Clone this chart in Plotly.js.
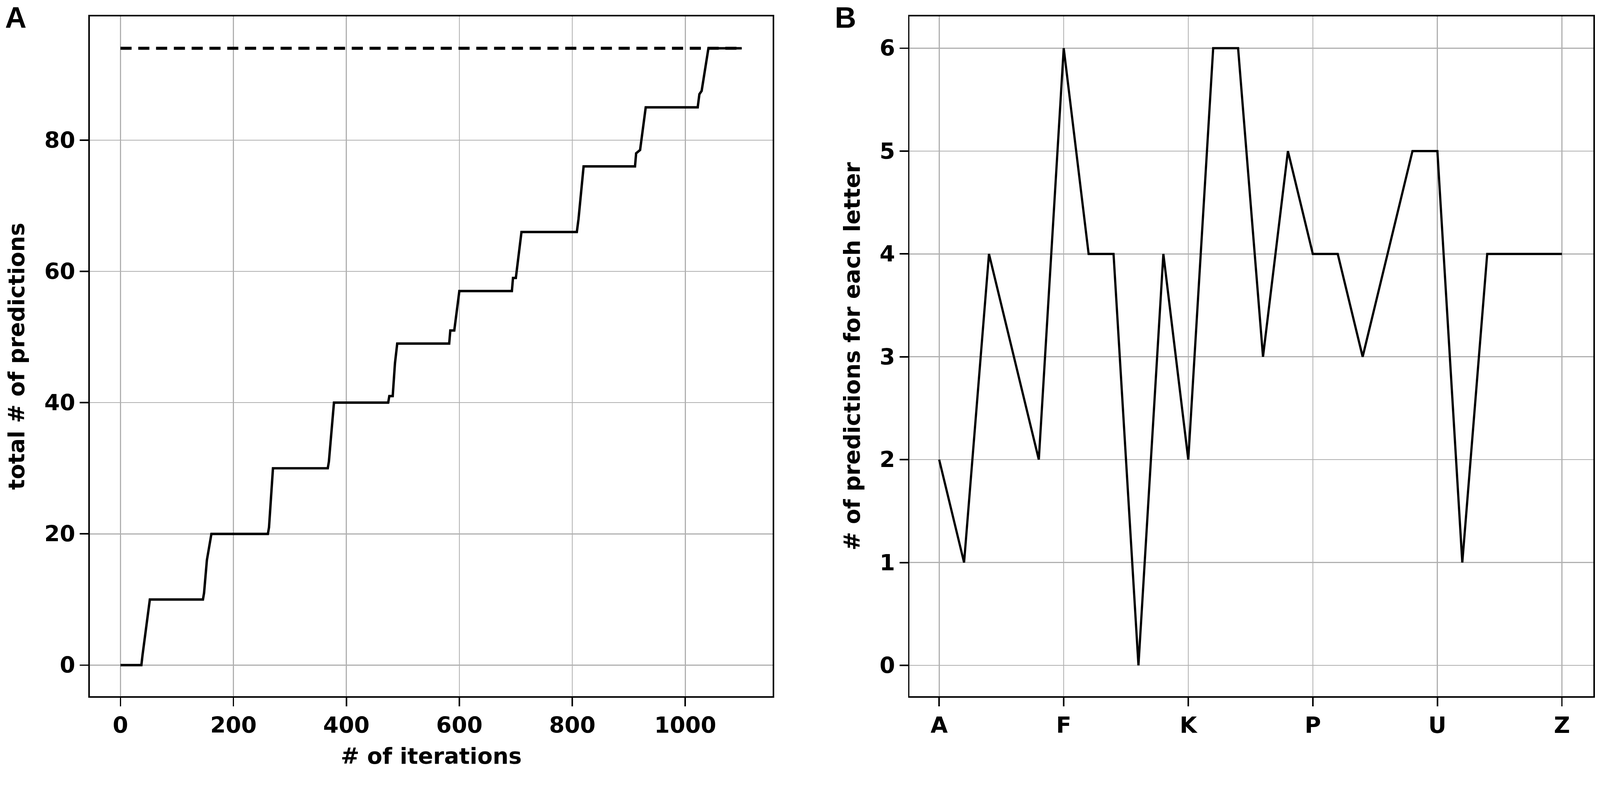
<!DOCTYPE html>
<html>
<head>
<meta charset="utf-8">
<script src="https://cdn.plot.ly/plotly-3.0.1.min.js"></script>
<style>html,body{margin:0;padding:0;background:#fff;overflow:hidden;}#chart{position:absolute;left:0;top:0;}</style>
</head>
<body>
<div id="chart"></div>
<script>
// Panel A: cumulative predictions vs iterations (vertices)
const iterations = [0, 37, 39, 52, 146, 148, 153, 161, 261, 263, 270, 367, 369, 378, 474, 476, 482, 486, 490, 582, 584, 591, 600, 693, 695, 700, 710, 808, 811, 820, 911, 913, 920, 930, 1022, 1025, 1029, 1041, 1100];
const totalPredictions = [0, 0, 1.5, 10, 10, 11, 16, 20, 20, 21, 30, 30, 31, 40, 40, 41, 41, 46, 49, 49, 51, 51, 57, 57, 59, 59, 66, 66, 68, 76, 76, 78, 78.5, 85, 85, 87, 87.5, 94, 94];
const targetX = [0, 1100];
const targetY = [94, 94];
const xTicksA = [0, 200, 400, 600, 800, 1000];
const yTicksA = [0, 20, 40, 60, 80];

// Panel B: predictions for each letter
const letters = ['A','B','C','D','E','F','G','H','I','J','K','L','M','N','O','P','Q','R','S','T','U','V','W','X','Y','Z'];
const letterCounts = [2, 1, 4, 3, 2, 6, 4, 4, 0, 4, 2, 6, 6, 3, 5, 4, 4, 3, 4, 5, 5, 1, 4, 4, 4, 4];
const xTicksB = ['A','F','K','P','U','Z'];
const yTicksB = [0, 1, 2, 3, 4, 5, 6];

// design size; scale everything to the real viewport
const W0 = 4317, H0 = 2077;
const vw = window.innerWidth || W0, vh = window.innerHeight || H0;
const s = Math.min(vw / W0, vh / H0);
const W = W0 * s, H = H0 * s;
const px = v => v * s;

const tickFont = {family: 'DejaVu Sans', size: px(60), weight: 'bold', color: '#000'};
const titleFont = {family: 'DejaVu Sans', size: px(60), weight: 'bold', color: '#000'};
const labelFont = {family: 'Liberation Sans', size: px(80), weight: 'bold', color: '#000'};

const axisCommon = {
  showline: true, linecolor: '#000', linewidth: px(4), mirror: true,
  ticks: 'outside', ticklen: px(23), tickwidth: px(4), tickcolor: '#000',
  showgrid: true, gridcolor: '#b0b0b0', gridwidth: px(2.7),
  zeroline: false, tickfont: tickFont, automargin: false
};

const traces = [
  {x: targetX, y: targetY, type: 'scatter', mode: 'lines', xaxis: 'x', yaxis: 'y',
   line: {color: '#000', width: px(8), dash: px(30) + 'px,' + px(18) + 'px'}, hoverinfo: 'skip'},
  {x: iterations, y: totalPredictions, type: 'scatter', mode: 'lines', xaxis: 'x', yaxis: 'y',
   line: {color: '#000', width: px(6.5)}},
  {x: letters, y: letterCounts, type: 'scatter', mode: 'lines', xaxis: 'x2', yaxis: 'y2',
   line: {color: '#000', width: px(6)}}
];

const yDom = [1 - 1879 / H0, 1 - 44 / H0];

const layout = {
  width: W, height: H,
  margin: {l: 0, r: 0, t: 0, b: 0},
  paper_bgcolor: '#fff', plot_bgcolor: '#fff',
  showlegend: false,
  font: {family: 'DejaVu Sans', color: '#000'},
  xaxis: Object.assign({}, axisCommon, {
    domain: [242 / W0, 2085 / W0], range: [-54.5, 1154.9],
    tickmode: 'array', tickvals: xTicksA,
    title: {text: '# of iterations', font: titleFont, standoff: px(30)}
  }),
  yaxis: Object.assign({}, axisCommon, {
    domain: yDom, range: [-4.74, 98.87],
    tickmode: 'array', tickvals: yTicksA,
    title: {text: 'total # of predictions', font: titleFont, standoff: px(35)}
  }),
  xaxis2: Object.assign({}, axisCommon, {
    domain: [2454 / W0, 4299 / W0], type: 'category', categoryorder: 'array', categoryarray: letters,
    range: [-1.19, 26.26],
    tickmode: 'array', tickvals: xTicksB,
    anchor: 'y2'
  }),
  yaxis2: Object.assign({}, axisCommon, {
    domain: yDom, range: [-0.30, 6.31], anchor: 'x2',
    tickmode: 'array', tickvals: yTicksB,
    title: {text: '# of predictions for each letter', font: titleFont, standoff: px(35)}
  }),
  annotations: [
    {text: 'A', xref: 'paper', yref: 'paper', x: 12 / W0, y: 1, xanchor: 'left', yanchor: 'top',
     showarrow: false, font: labelFont},
    {text: 'B', xref: 'paper', yref: 'paper', x: 2250 / W0, y: 1, xanchor: 'left', yanchor: 'top',
     showarrow: false, font: labelFont}
  ]
};

const el = document.getElementById('chart');
el.style.width = W + 'px';
el.style.height = H + 'px';
Plotly.newPlot('chart', traces, layout, {staticPlot: true, displayModeBar: false});
</script>
</body>
</html>
